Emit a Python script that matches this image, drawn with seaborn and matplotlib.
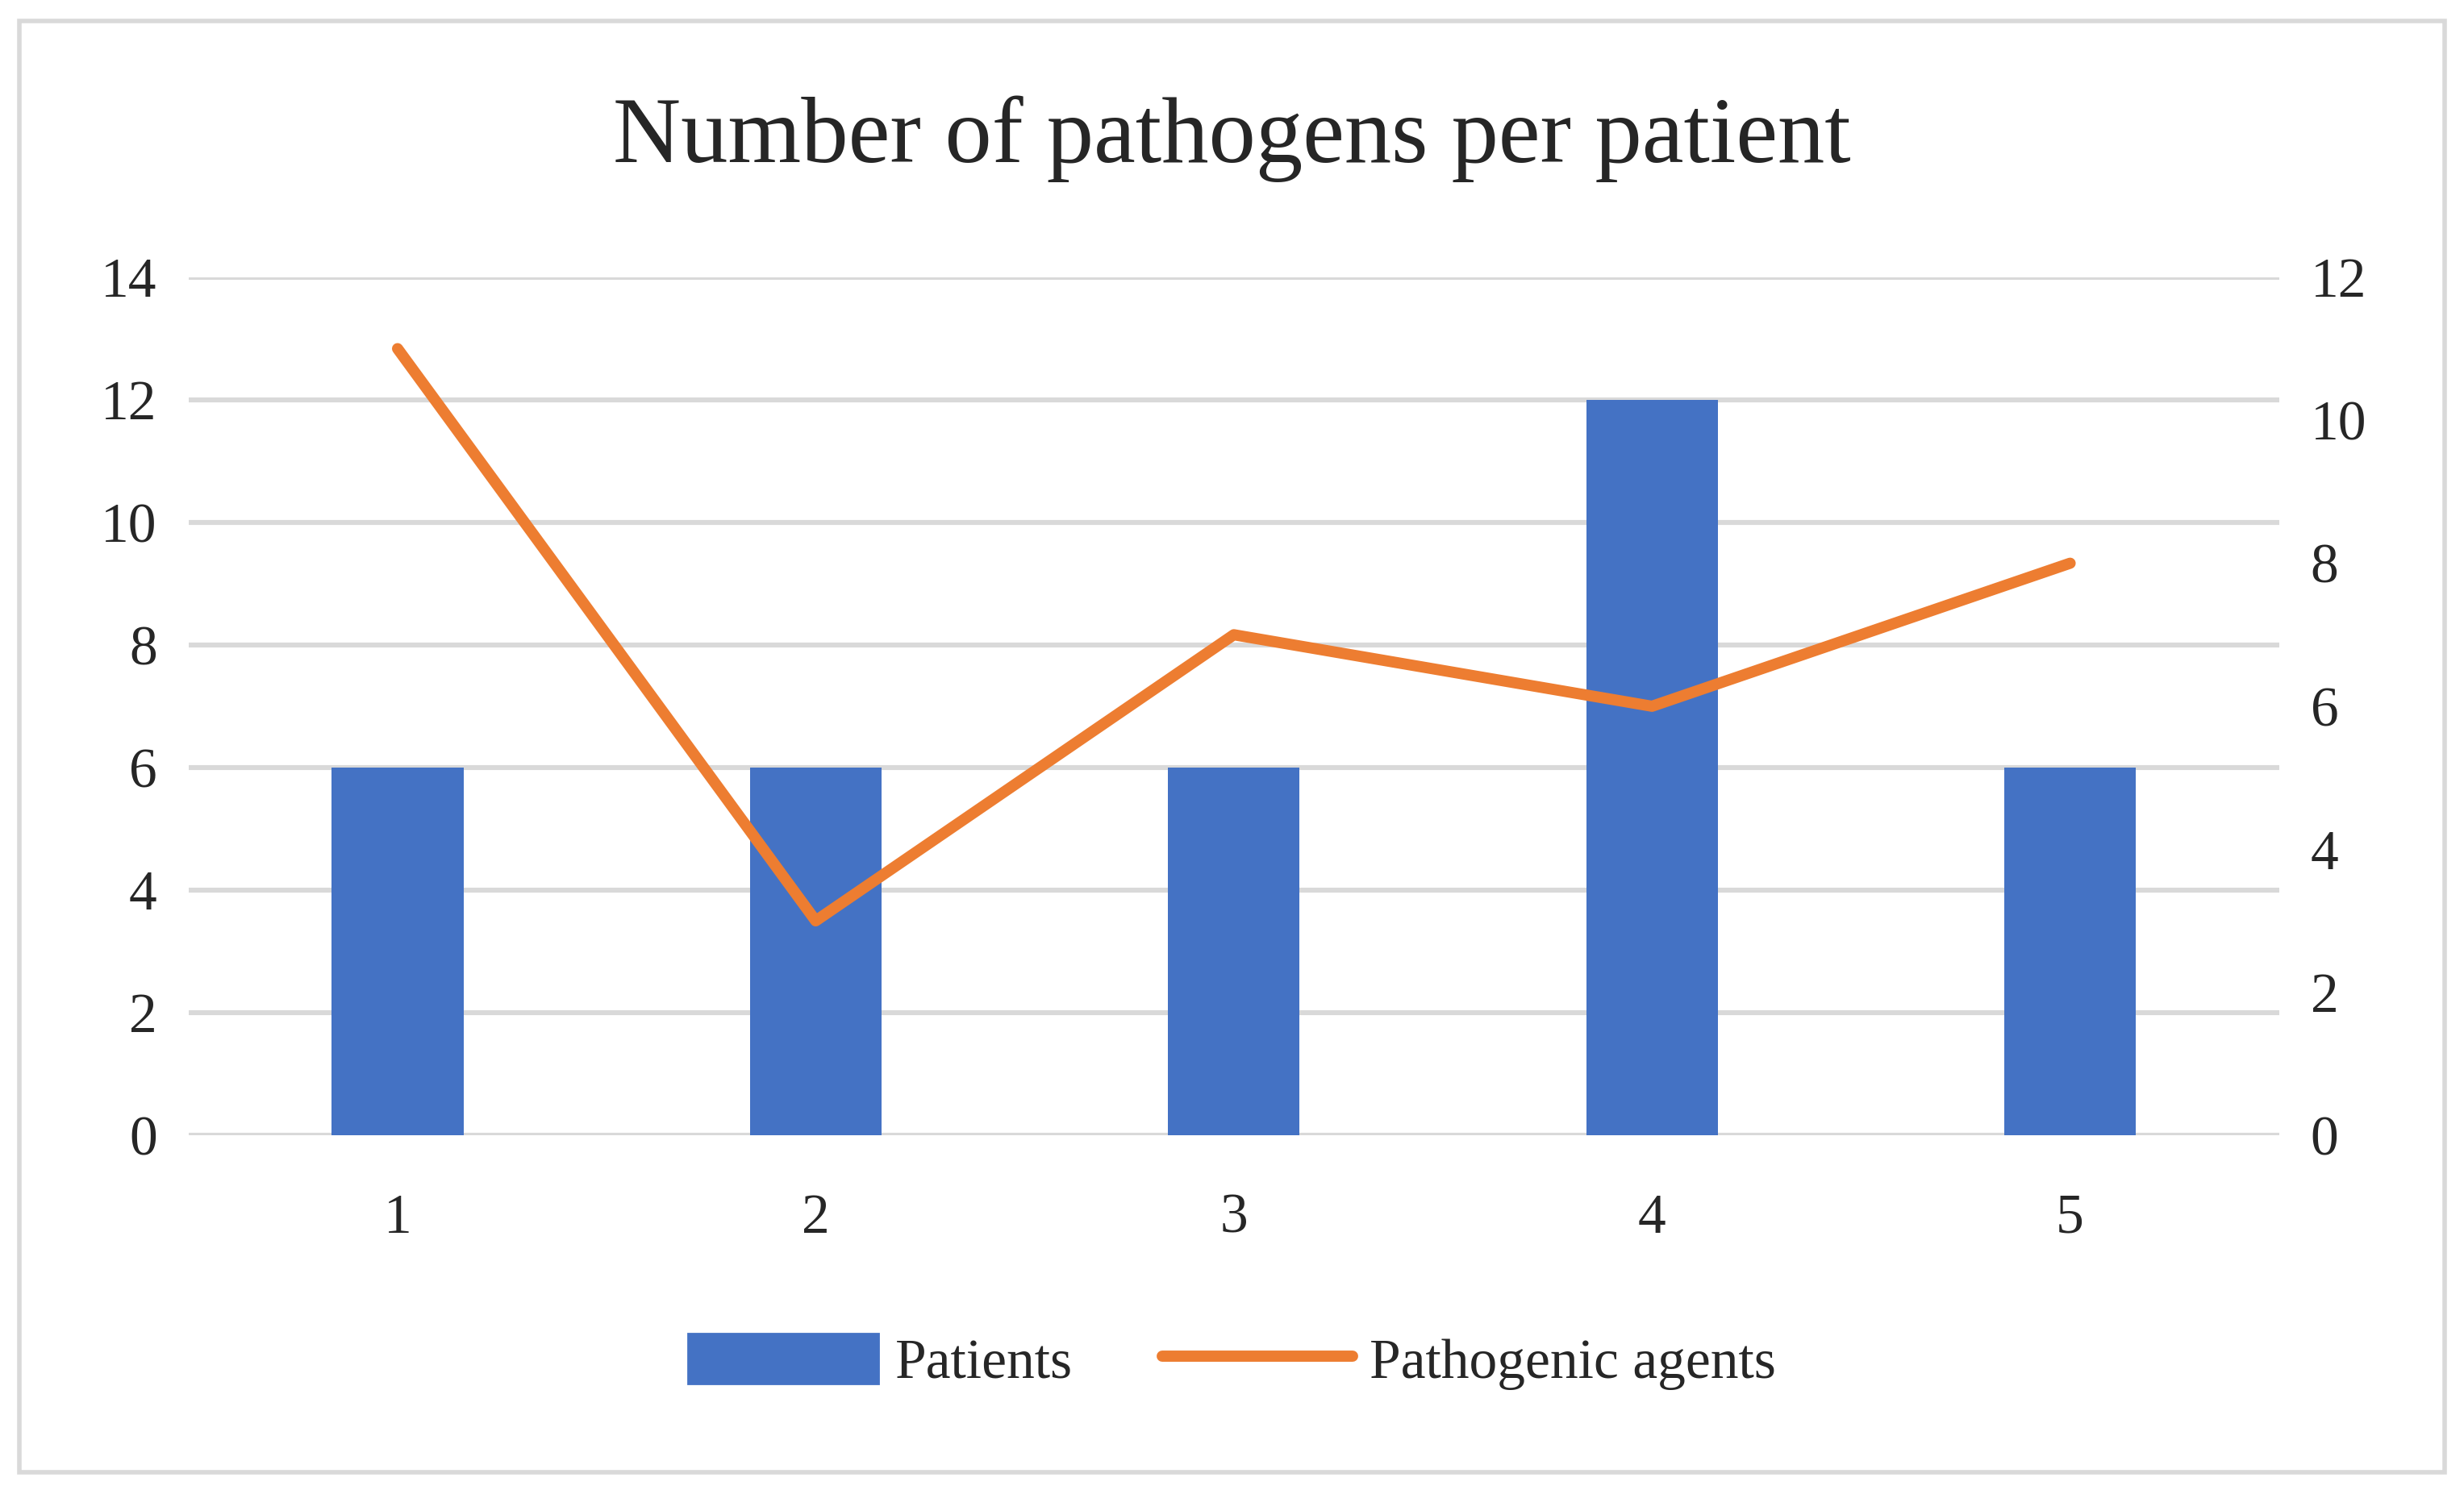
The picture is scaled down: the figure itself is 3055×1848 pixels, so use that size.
import matplotlib
matplotlib.use("Agg")
import matplotlib.pyplot as plt
import seaborn as sns
import pandas as pd
from matplotlib.patches import Rectangle
from matplotlib.lines import Line2D

sns.set_style("white")
plt.rcParams["font.family"] = ["Liberation Serif", "DejaVu Serif"]

categories = ["1", "2", "3", "4", "5"]
patients = [6, 6, 6, 12, 6]
agents = [11, 3, 7, 6, 8]

BLUE = "#4472C4"
ORANGE = "#ED7D31"
GRID = "#D9D9D9"

df = pd.DataFrame({"cat": categories, "patients": patients,
                   "pos": range(len(categories)), "agents": agents})

fig = plt.figure(figsize=(15.275, 9.24), dpi=200)
ax = fig.add_axes([0.0765, 0.238, 0.8485, 0.576])

sns.barplot(data=df, x="cat", y="patients", color=BLUE, width=0.315,
            saturation=1, linewidth=0, ax=ax, zorder=3)
ax.set_ylim(0, 14)
ax.set_yticks(range(0, 15, 2))
ax.set_xlim(-0.5, 4.5)
ax.grid(axis="y", color=GRID, linewidth=2.2, zorder=0)
ax.set_axisbelow(True)
for s in ax.spines.values():
    s.set_visible(False)
ax.set_xlabel("")
ax.set_ylabel("")
ax.tick_params(axis="both", length=0, labelsize=25, pad=14)
ax.tick_params(axis="x", pad=26)

ax2 = ax.twinx()
sns.lineplot(data=df, x="pos", y="agents", color=ORANGE, linewidth=5,
             ax=ax2, solid_capstyle="round")
ax2.set_ylim(0, 12)
ax2.set_yticks(range(0, 13, 2))
ax2.set_xlim(-0.5, 4.5)
for s in ax2.spines.values():
    s.set_visible(False)
ax2.set_ylabel("")
ax2.set_xlabel("")
ax2.tick_params(axis="y", length=0, labelsize=25, pad=14)

fig.text(0.5, 0.907, "Number of pathogens per patient", ha="center",
         va="center", fontsize=42)

handles = [Rectangle((0, 0), 1, 1, color=BLUE),
           Line2D([0], [0], color=ORANGE, linewidth=5)]
fig.legend(handles, ["Patients", "Pathogenic agents"], loc="center",
           bbox_to_anchor=(0.5, 0.086), ncol=2, frameon=False, fontsize=25,
           handlelength=3.4, handleheight=1.0, columnspacing=1.6,
           handletextpad=0.3)

fig.add_artist(Rectangle((0.008, 0.012), 0.984, 0.974, transform=fig.transFigure,
                         fill=False, edgecolor=GRID, linewidth=2))

fig.savefig("out.png", dpi=200)
